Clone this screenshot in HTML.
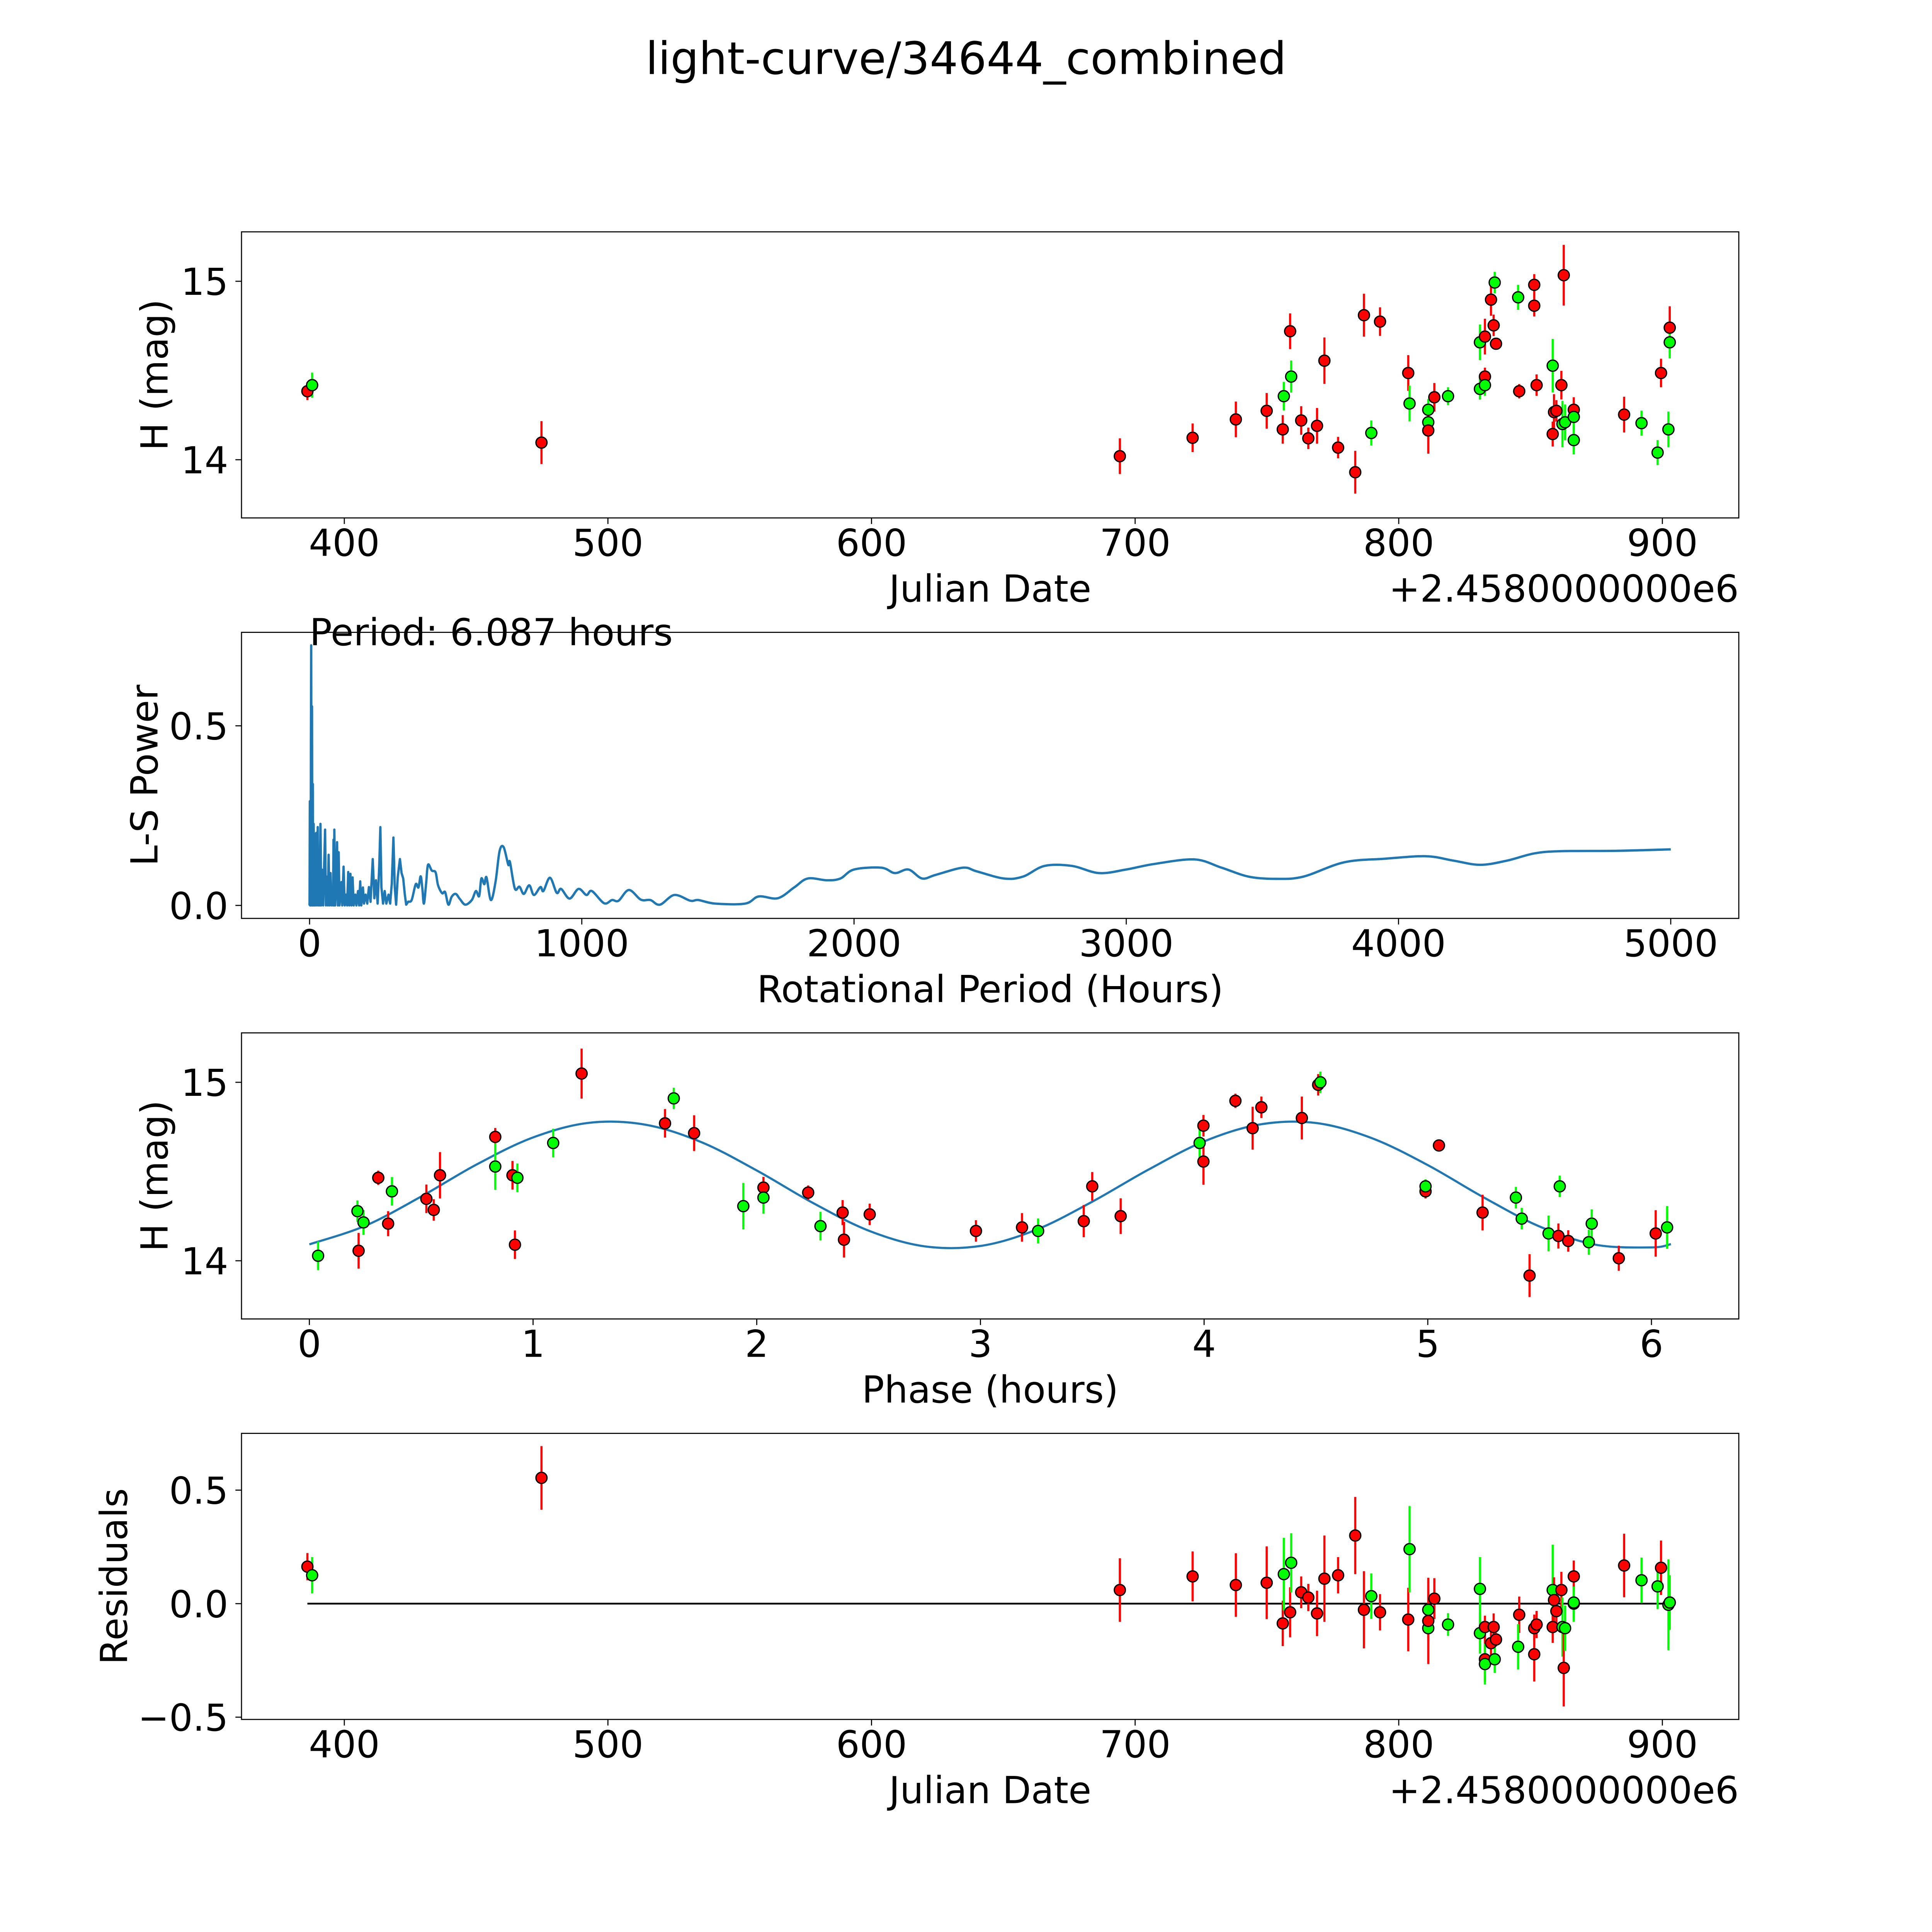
<!DOCTYPE html>
<html><head><meta charset="utf-8"><style>
html,body{margin:0;padding:0;background:#fff;overflow:hidden;width:100%;height:100%;}
svg{position:fixed;left:0;top:0;width:100vw;height:100vh;display:block;font-family:"DejaVu Sans","Liberation Sans",sans-serif;}
</style></head><body>
<svg id="fig" xmlns="http://www.w3.org/2000/svg" viewBox="0 0 5400 5400" preserveAspectRatio="none">
<rect x="0" y="0" width="5400" height="5400" fill="#fff"/>
<text x="2700" y="207" font-size="125" text-anchor="middle">light-curve/34644_combined</text>
</svg>
<script>
// ---- Panel 1: light curve vs Julian date ----
const lcDate=[386,387.8,474.8,694.2,721.8,738.2,749.9,756,756.4,758.8,759.2,763,765.7,769,771.8,777,783.5,786.8,789.6,792.9,803.6,804.1,811.2,811.2,811.2,813.5,818.7,830.8,830.8,832.7,832.7,832.7,835,836,836.4,836.9,845.7,845.3,851.4,851.4,852.3,858.4,858.4,858.9,859.8,861.7,862.1,862.6,863.1,866.4,866.4,866.4,885.5,892.1,898.2,899.5,902.3,902.8,902.8];
const lcMag=[14.384,14.418,14.096,14.02,14.123,14.226,14.274,14.17,14.356,14.72,14.466,14.22,14.12,14.19,14.555,14.068,13.93,14.81,14.15,14.774,14.486,14.315,14.28,14.21,14.164,14.35,14.356,14.658,14.397,14.69,14.466,14.418,14.897,14.753,14.993,14.65,14.384,14.91,14.98,14.863,14.418,14.527,14.144,14.267,14.274,14.418,14.2,15.034,14.21,14.11,14.28,14.24,14.253,14.205,14.04,14.486,14.17,14.74,14.658];
const lcErr=[0.05,0.07,0.12,0.1,0.08,0.1,0.1,0.08,0.08,0.1,0.09,0.08,0.06,0.1,0.13,0.06,0.12,0.12,0.07,0.08,0.1,0.1,0.06,0.05,0.13,0.08,0.05,0.1,0.06,0.1,0.05,0.06,0.09,0.06,0.06,0.03,0.04,0.07,0.06,0.06,0.06,0.15,0.07,0.1,0.06,0.08,0.13,0.17,0.1,0.08,0.07,0.07,0.1,0.07,0.07,0.08,0.1,0.12,0.09];
const lcBand=['r','g','r','r','r','r','r','r','g','r','g','r','r','r','r','r','r','r','g','r','r','g','g','g','r','r','g','g','g','r','r','g','r','r','g','r','r','g','r','r','r','g','r','r','r','r','g','r','g','g','r','g','r','g','g','r','g','r','g'];
const dateTicks=[400,500,600,700,800,900];
const magTicks=[14,15];

// ---- Panel 2: Lomb-Scargle periodogram ----
const lsPeriod=[0,1,2,3,4,5,6,7,8,9,10,11,12,13,15,17,19,21,23,25,27,30,33,36,38,40,43,45,48,50,54,57,60,64,67,70,73,77,80,84,86,88,90,91,94,98,101,104,107,110,114,117,120,125,129,134,138,142,146,150,154,158,162,168,172,178,182,186,190,196,200,206,212,218,224,232,238,244,250,256,260,264,270,276,282,290,296,302,308,313,318,324,332,338,344,350,355,362,375,390,400,408,414,420,428,435,449,463,472,487,498,510,522,537,552,572,596,611,623,631,642,650,666,683,698,713,730,736,754,771,787,807,824,848,859,883,908,924,955,988,1017,1037,1082,1111,1135,1173,1217,1252,1287,1340,1399,1428,1490,1600,1650,1720,1780,1830,1900,1950,2000,2100,2150,2200,2250,2300,2400,2450,2550,2620,2700,2800,2900,3000,3100,3250,3350,3450,3550,3650,3800,3950,4100,4200,4300,4400,4500,4600,4800,5000];
const lsPower=[0,0.29,0,0.28,0,0.45,0.724,0.2,0,0.554,0.1,0,0.338,0,0.227,0,0.2,0,0.15,0.202,0,0.218,0,0.12,0,0.227,0,0.1,0.07,0,0.12,0.211,0,0.08,0,0.141,0,0.09,0,0.05,0,0.183,0,0.211,0,0.06,0.176,0,0.148,0,0.04,0.065,0,0.108,0,0.03,0,0.093,0,0.088,0,0.078,0,0.03,0,0.04,0,0.067,0,0.05,0.005,0.03,0.005,0.051,0.01,0.129,0.02,0.07,0.005,0.11,0.218,0.05,0.005,0.04,0.005,0.03,0.005,0.06,0.189,0.05,0.002,0.08,0.129,0.09,0.075,0.03,0.002,0.01,0.015,0.059,0.05,0.081,0.05,0.005,0.06,0.113,0.097,0.092,0.056,0.034,0.037,0.002,0.024,0.032,0.018,0.002,0.015,0.04,0.026,0.075,0.059,0.078,0.015,0.065,0.151,0.162,0.113,0.121,0.047,0.052,0.032,0.056,0.029,0.051,0.04,0.077,0.035,0.046,0.019,0.046,0.029,0.04,0.006,0.015,0.013,0.043,0.016,0.015,0.002,0.029,0.013,0.015,0.005,0.005,0.025,0.02,0.05,0.075,0.07,0.075,0.1,0.105,0.09,0.1,0.075,0.085,0.105,0.095,0.075,0.08,0.11,0.11,0.09,0.1,0.115,0.128,0.105,0.08,0.074,0.08,0.12,0.13,0.137,0.125,0.113,0.125,0.145,0.151,0.152,0.156];
const periodTicks=[0,1000,2000,3000,4000,5000];
const powerTicks=[0.0,0.5];
const periodLabel='Period: 6.087 hours';
const bestPower=0.724;

// ---- Panel 3: phased light curve ----
const phHour=[0.039,0.215,0.22,0.242,0.308,0.352,0.369,0.523,0.556,0.584,0.831,0.831,0.908,0.919,0.93,1.09,1.217,1.59,1.629,1.72,1.94,2.03,2.03,2.23,2.285,2.384,2.39,2.505,2.98,3.186,3.258,3.462,3.5,3.627,3.98,3.997,3.997,4.14,4.217,4.256,4.437,4.51,4.52,4.99,4.99,5.05,5.245,5.394,5.42,5.455,5.54,5.584,5.59,5.628,5.72,5.733,5.854,6.019,6.07];
const phMag=[14.028,14.278,14.056,14.215,14.465,14.208,14.389,14.347,14.285,14.479,14.694,14.528,14.479,14.09,14.465,14.66,15.049,14.77,14.91,14.715,14.306,14.41,14.354,14.382,14.194,14.27,14.118,14.26,14.167,14.187,14.167,14.222,14.417,14.25,14.66,14.757,14.556,14.896,14.743,14.86,14.8,14.986,15.0,14.389,14.417,14.646,14.27,14.354,14.236,13.917,14.153,14.139,14.417,14.111,14.104,14.208,14.014,14.153,14.187];
const phErr=[0.08,0.06,0.1,0.07,0.04,0.07,0.08,0.08,0.06,0.13,0.05,0.13,0.08,0.08,0.08,0.08,0.14,0.08,0.06,0.1,0.13,0.06,0.09,0.04,0.08,0.07,0.1,0.06,0.06,0.08,0.07,0.09,0.08,0.1,0.1,0.06,0.13,0.04,0.12,0.06,0.12,0.06,0.06,0.04,0.04,0.02,0.1,0.06,0.06,0.12,0.1,0.07,0.06,0.06,0.07,0.08,0.07,0.13,0.12];
const phBand=['g','g','r','g','r','r','g','r','r','r','r','g','r','r','g','g','r','r','g','r','g','r','g','r','g','r','r','r','r','r','g','r','r','r','g','r','r','r','r','r','r','r','g','r','g','r','r','g','g','r','g','r','g','r','g','g','r','r','g'];
const modelPhase=[0,0.25,0.5,0.75,1,1.25,1.5,1.75,2,2.25,2.5,2.75,3,3.25,3.5,3.75,4,4.25,4.5,4.75,5,5.25,5.5,5.75,6,6.087];
const modelMag=[14.092,14.196,14.36,14.541,14.691,14.773,14.763,14.666,14.506,14.325,14.169,14.081,14.083,14.174,14.331,14.51,14.669,14.764,14.772,14.687,14.536,14.355,14.192,14.09,14.075,14.093];
const phaseTicks=[0,1,2,3,4,5,6];

// ---- Panel 4: residuals ----
const resDate=[386,387.8,474.8,694.2,721.8,738.2,749.9,756,756.4,758.8,759.2,763,765.7,769,771.8,777,783.5,786.8,789.6,792.9,803.6,804.1,811.2,811.2,811.2,813.5,818.7,830.8,830.8,832.7,832.7,832.7,835,836,836.4,836.9,845.7,845.3,851.4,851.4,852.3,858.4,858.4,858.9,859.8,861.7,862.1,862.6,863.1,866.4,866.4,866.4,885.5,892.1,898.2,899.5,902.3,902.8,902.8];
const resVal=[0.163,0.125,0.554,0.06,0.12,0.082,0.092,-0.087,0.13,-0.038,0.18,0.05,0.027,-0.043,0.11,0.125,0.3,-0.027,0.033,-0.038,-0.07,0.24,-0.027,-0.108,-0.076,0.022,-0.092,0.065,-0.13,-0.245,-0.103,-0.266,-0.174,-0.103,-0.245,-0.158,-0.049,-0.19,-0.108,-0.223,-0.092,0.06,-0.103,0.016,-0.033,0.06,-0.103,-0.283,-0.108,0.0,0.12,0.005,0.168,0.103,0.076,0.158,-0.005,0.005,0.005];
const resErr=[0.06,0.08,0.14,0.14,0.11,0.14,0.16,0.1,0.16,0.11,0.13,0.07,0.06,0.1,0.19,0.08,0.17,0.17,0.1,0.08,0.14,0.19,0.1,0.06,0.19,0.09,0.05,0.14,0.09,0.1,0.05,0.09,0.09,0.06,0.06,0.03,0.08,0.1,0.06,0.12,0.06,0.2,0.07,0.1,0.06,0.08,0.13,0.17,0.1,0.08,0.07,0.07,0.14,0.1,0.1,0.12,0.2,0.12,0.12];
const resBand=lcBand;
const resTicks=[-0.5,0.0,0.5];

const NS='http://www.w3.org/2000/svg';
const svg=document.getElementById('fig');
const AX_L=675, AX_W=4185, AX_H=799.6;
const TOPS=[648,1767.4,2886.9,4006.3];
const FS=104;
function mk(tag,attrs,parent){const e=document.createElementNS(NS,tag);for(const k in attrs)e.setAttribute(k,attrs[k]);(parent||svg).appendChild(e);return e;}
function makeAxis(i,xmin,xmax,ymin,ymax){
  const top=TOPS[i];
  return {top:top,bottom:top+AX_H,
    x:v=>AX_L+(v-xmin)/(xmax-xmin)*AX_W,
    y:v=>top+AX_H-(v-ymin)/(ymax-ymin)*AX_H};
}
function fmt(v,dec){let s=v.toFixed(dec);if(v<0)s='\u2212'+s.slice(1);return s;}
function drawFrame(ax,name,xt,xdec,yt,ydec,xlabel,ylabel,ylabX,offset){
  const g=mk('g',{});
  
  
  xt.forEach(v=>{
    const X=ax.x(v);
    const t=mk('line',{x1:X,x2:X,y1:ax.bottom,y2:ax.bottom+17,stroke:'#000','stroke-width':3},g);
    
    
    const l=mk('text',{x:X,y:ax.bottom+17+12+77,'font-size':FS,'text-anchor':'middle'},g);
    l.textContent=fmt(v,xdec);
    
    
  });
  yt.forEach(v=>{
    const Y=ax.y(v);
    const t=mk('line',{x1:AX_L-17,x2:AX_L,y1:Y,y2:Y,stroke:'#000','stroke-width':3},g);
    
    
    const l=mk('text',{x:AX_L-17-20,y:Y+38,'font-size':FS,'text-anchor':'end'},g);
    l.textContent=fmt(v,ydec);
    
    
  });
  const xl=mk('text',{x:AX_L+AX_W/2,y:ax.bottom+234,'font-size':FS,'text-anchor':'middle'},g);
  xl.textContent=xlabel;
  
  
  const cy=ax.top+AX_H/2;
  const yl=mk('text',{x:ylabX,y:cy,'font-size':FS,'text-anchor':'middle',transform:'rotate(-90 '+ylabX+' '+cy+')'},g);
  yl.textContent=ylabel;
  
  
  if(offset){
    const o=mk('text',{x:AX_L+AX_W,y:ax.bottom+234,'font-size':FS,'text-anchor':'end'},g);
    o.textContent=offset;
    
    
  }
}
function drawBorder(ax){
  const r=mk('rect',{x:AX_L,y:ax.top,width:AX_W,height:AX_H,fill:'none',stroke:'#000','stroke-width':3});
  
  
}
function drawPoints(ax,xs,ys,es,bands,name){
  const g=mk('g',{});
  
  
  for(let i=0;i<xs.length;i++){
    const c=bands[i]==='g'?'#00ff00':'#ff0000';
    const X=ax.x(xs[i]);
    const e=mk('line',{x1:X,x2:X,y1:ax.y(ys[i]-es[i]),y2:ax.y(ys[i]+es[i]),stroke:c,'stroke-width':6},g);
    
    
  }
  for(let i=0;i<xs.length;i++){
    const c=bands[i]==='g'?'#00ff00':'#ff0000';
    const p=mk('circle',{cx:ax.x(xs[i]),cy:ax.y(ys[i]),r:15.5,fill:c,stroke:'#000','stroke-width':3.5},g);
    
    
  }
}
// Linear below linearUntil (spiky region), smooth Catmull-Rom beyond.
function smoothPath(ax,xs,ys,linearUntil){
  const P=xs.map((v,i)=>[ax.x(v),ax.y(ys[i])]);
  let d='M'+P[0][0].toFixed(1)+' '+P[0][1].toFixed(1);
  for(let i=0;i<P.length-1;i++){
    const p1=P[i],p2=P[i+1];
    if(linearUntil!==undefined && xs[i+1]<=linearUntil){d+=' L'+p2[0].toFixed(1)+' '+p2[1].toFixed(1);continue;}
    const p0=P[Math.max(i-1,0)],p3=P[Math.min(i+2,P.length-1)];
    const c1=[p1[0]+(p2[0]-p0[0])/6,p1[1]+(p2[1]-p0[1])/6];
    const c2=[p2[0]-(p3[0]-p1[0])/6,p2[1]-(p3[1]-p1[1])/6];
    d+=' C'+c1[0].toFixed(1)+' '+c1[1].toFixed(1)+' '+c2[0].toFixed(1)+' '+c2[1].toFixed(1)+' '+p2[0].toFixed(1)+' '+p2[1].toFixed(1);
  }
  return d;
}

// Panel 1
const ax1=makeAxis(0,361,929,13.674,15.277);
drawFrame(ax1,'light-curve',dateTicks,0,magTicks,0,'Julian Date','H (mag)',468,'+2.4580000000e6');
drawPoints(ax1,lcDate,lcMag,lcErr,lcBand,'light-curve-points');
drawBorder(ax1);

// Panel 2
const ax2=makeAxis(1,-250,5250,-0.0362,0.7602);
drawFrame(ax2,'periodogram',periodTicks,0,powerTicks,1,'Rotational Period (Hours)','L-S Power',440,null);
const ls=mk('path',{d:smoothPath(ax2,lsPeriod,lsPower,362),fill:'none',stroke:'#1f77b4','stroke-width':6.5,'stroke-linejoin':'round'});


drawBorder(ax2);
const pl=mk('text',{x:ax2.x(0),y:ax2.y(bestPower),'font-size':FS});
pl.textContent=periodLabel;



// Panel 3
const ax3=makeAxis(2,-0.3035,6.3905,13.674,15.277);
drawFrame(ax3,'phased-curve',phaseTicks,0,magTicks,0,'Phase (hours)','H (mag)',468,null);
const mc=mk('path',{d:smoothPath(ax3,modelPhase,modelMag),fill:'none',stroke:'#1f77b4','stroke-width':6});


drawPoints(ax3,phHour,phMag,phErr,phBand,'phased-points');
drawBorder(ax3);

// Panel 4
const ax4=makeAxis(3,361,929,-0.51,0.75);
drawFrame(ax4,'residuals',dateTicks,0,resTicks,1,'Julian Date','Residuals',355,'+2.4580000000e6');
const zl=mk('line',{x1:ax4.x(resDate[0]),x2:ax4.x(resDate[resDate.length-1]),y1:ax4.y(0),y2:ax4.y(0),stroke:'#000','stroke-width':5});


drawPoints(ax4,resDate,resVal,resErr,resBand,'residual-points');
drawBorder(ax4);
</script>
</body></html>
